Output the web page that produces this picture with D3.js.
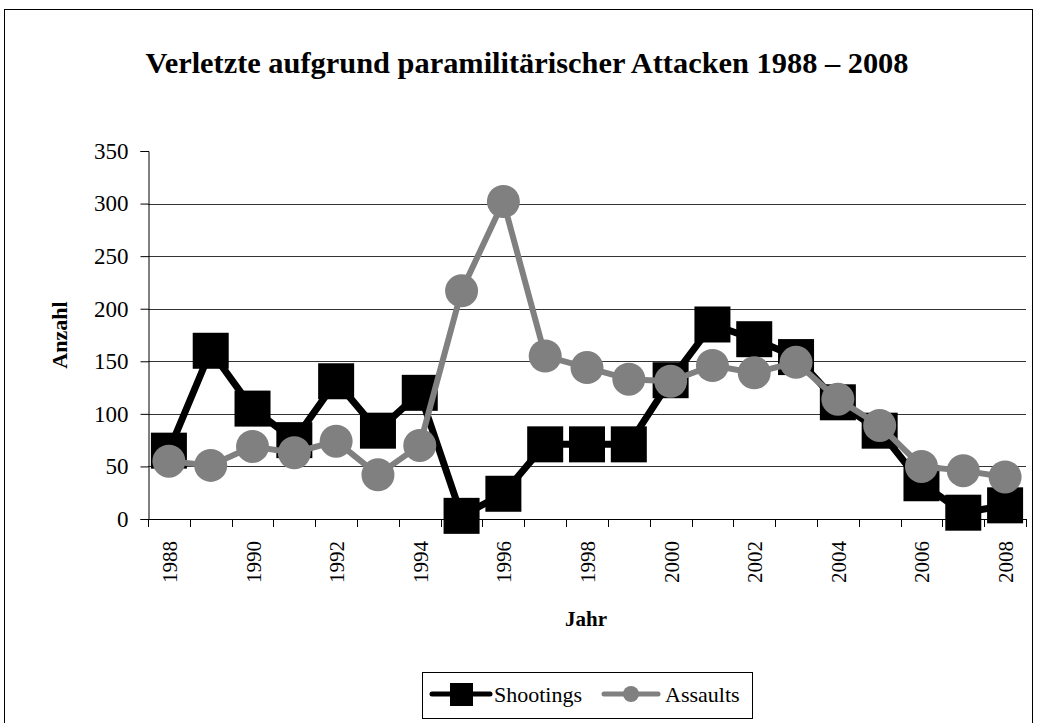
<!DOCTYPE html>
<html>
<head>
<meta charset="utf-8">
<script src="https://cdn.jsdelivr.net/npm/d3@7"></script>
<style>
  body { margin: 0; background: #fff; }
  text { font-family: "Liberation Serif", "DejaVu Serif", serif; fill: #000; }
</style>
</head>
<body>
<script>
// data
const years = d3.range(1988, 2009);
const shootings = [65, 160, 105, 75, 131, 84, 120, 3, 24, 71, 71, 71, 132, 185, 171, 154, 111, 84, 34, 6, 13];
const assaults = [55, 51, 69, 63, 74, 42, 70, 217, 302, 155, 144, 133, 131, 146, 139, 149, 114, 89, 50, 46, 40];
const yTicks = [0, 50, 100, 150, 200, 250, 300, 350];
const seriesNames = ["Shootings", "Assaults"];

const W = 1037, H = 723;
const plot = { left: 148, right: 1026, top: 151, bottom: 519 };

const svg = d3.select("body").append("svg").attr("width", W).attr("height", H);

// outer frame
svg.append("rect").attr("x", 4.5).attr("y", 9.5).attr("width", 1028).attr("height", 720)
  .attr("fill", "none").attr("stroke", "#000").attr("stroke-width", 1);

svg.append("text").attr("x", 527).attr("y", 73).attr("text-anchor", "middle")
  .attr("font-size", 30).attr("font-weight", "bold")
  .attr("textLength", 763).attr("lengthAdjust", "spacingAndGlyphs")
  .text("Verletzte aufgrund paramilitärischer Attacken 1988 – 2008");

const x = d3.scaleBand().domain(years).range([plot.left, plot.right]);
const y = d3.scaleLinear().domain([0, 350]).range([plot.bottom, plot.top]);

// gridlines
svg.append("g").selectAll("line").data(yTicks.filter(d => d > 0 && d < 350)).join("line")
  .attr("x1", plot.left).attr("x2", plot.right)
  .attr("y1", d => Math.round(y(d)) + 0.5).attr("y2", d => Math.round(y(d)) + 0.5)
  .attr("stroke", "#333").attr("stroke-width", 1);

// y axis
const yAxis = svg.append("g").attr("transform", `translate(${plot.left + 0.5},0)`)
  .call(d3.axisLeft(y).tickValues(yTicks).tickSize(8).tickPadding(12));
yAxis.select(".domain").attr("stroke", "#000");
yAxis.selectAll("text").attr("font-size", 23);

// x axis: ticks at category boundaries
const bounds = years.map(d => x(d)).concat([plot.right]);
const xg = svg.append("g");
xg.append("line").attr("x1", plot.left).attr("x2", plot.right)
  .attr("y1", plot.bottom + 0.5).attr("y2", plot.bottom + 0.5).attr("stroke", "#000");
xg.selectAll("line.tick").data(bounds).join("line").attr("class", "tick")
  .attr("x1", d => Math.round(d) + 0.5).attr("x2", d => Math.round(d) + 0.5)
  .attr("y1", plot.bottom).attr("y2", plot.bottom + 8).attr("stroke", "#000");
xg.selectAll("text").data(years.filter(d => d % 2 === 0)).join("text")
  .attr("transform", d => `translate(${x(d) + x.bandwidth() / 2 + 8},541) rotate(-90)`)
  .attr("text-anchor", "end").attr("font-size", 21).text(d => d);

// axis titles
svg.append("text").attr("transform", "translate(67,335) rotate(-90)").attr("text-anchor", "middle")
  .attr("font-size", 22).attr("font-weight", "bold").text("Anzahl");
svg.append("text").attr("x", 586).attr("y", 626).attr("text-anchor", "middle")
  .attr("font-size", 21).attr("font-weight", "bold").text("Jahr");

const cx = d => x(d) + x.bandwidth() / 2;
const line = d3.line().x(d => cx(d.year)).y(d => y(d.v));

const sData = years.map((yr, i) => ({ year: yr, v: shootings[i] }));
const aData = years.map((yr, i) => ({ year: yr, v: assaults[i] }));

// shootings
svg.append("path").datum(sData).attr("d", line).attr("fill", "none")
  .attr("stroke", "#000").attr("stroke-width", 7).attr("stroke-linejoin", "round");
svg.append("g").selectAll("rect").data(sData).join("rect")
  .attr("x", d => cx(d.year) - 18).attr("y", d => y(d.v) - 18)
  .attr("width", 36).attr("height", 36).attr("fill", "#000");

// assaults
svg.append("path").datum(aData).attr("d", line).attr("fill", "none")
  .attr("stroke", "#808080").attr("stroke-width", 6).attr("stroke-linejoin", "round");
svg.append("g").selectAll("circle").data(aData).join("circle")
  .attr("cx", d => cx(d.year)).attr("cy", d => y(d.v)).attr("r", 16.5).attr("fill", "#808080");

// legend
const lg = svg.append("g");
lg.append("rect").attr("x", 422.5).attr("y", 672.5).attr("width", 330).attr("height", 46)
  .attr("fill", "#fff").attr("stroke", "#000");
lg.append("line").attr("x1", 432).attr("x2", 490).attr("y1", 694).attr("y2", 694)
  .attr("stroke", "#000").attr("stroke-width", 5).attr("stroke-linecap", "round");
lg.append("rect").attr("x", 450).attr("y", 683).attr("width", 23).attr("height", 23).attr("fill", "#000");
lg.append("text").attr("x", 494).attr("y", 702).attr("font-size", 22).text(seriesNames[0]);
lg.append("line").attr("x1", 604).attr("x2", 658).attr("y1", 694).attr("y2", 694)
  .attr("stroke", "#808080").attr("stroke-width", 5).attr("stroke-linecap", "round");
lg.append("circle").attr("cx", 631).attr("cy", 694).attr("r", 8).attr("fill", "#808080");
lg.append("text").attr("x", 665).attr("y", 702).attr("font-size", 22).text(seriesNames[1]);

// make sure every label uses the serif face
svg.selectAll("text").style("font-family", "'Liberation Serif', 'DejaVu Serif', serif");
</script>
</body>
</html>
